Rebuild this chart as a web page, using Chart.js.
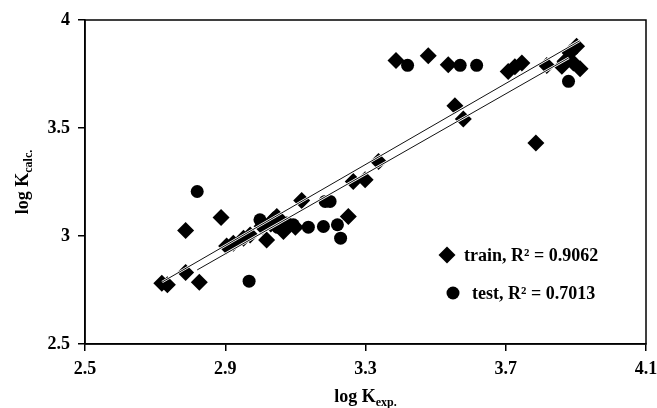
<!DOCTYPE html>
<html><head><meta charset="utf-8">
<script src="https://cdn.jsdelivr.net/npm/chart.js@4"></script>
<style>html,body{margin:0;padding:0;background:#fff}#wrap{width:657px;height:408px;position:relative}</style>
</head><body><div id="wrap"><canvas id="c" width="657" height="408"></canvas></div>
<script>
// ---- data ----
const trainX = [2.719,2.735,2.787,2.826,2.787,2.888,2.904,2.923,2.952,2.971,3.018,3.037,3.047,3.066,3.005,3.030,3.060,3.100,3.118,3.251,3.265,3.299,3.337,3.387,3.479,3.536,3.555,3.579,3.707,3.726,3.746,3.817,3.786,3.902,3.883,3.869,3.893,3.912,3.860];
const trainY = [2.781,2.774,2.831,2.786,3.025,3.086,2.954,2.967,2.990,3.005,2.982,3.075,3.090,3.021,3.045,3.055,3.060,3.040,3.164,3.090,3.252,3.260,3.345,3.813,3.835,3.793,3.603,3.542,3.762,3.783,3.801,3.789,3.430,3.878,3.848,3.809,3.801,3.774,3.786];
const testX = [2.820,2.968,2.999,3.050,3.075,3.094,3.137,3.180,3.220,3.229,3.185,3.199,3.420,3.570,3.617,3.879];
const testY = [3.206,2.791,3.075,3.040,3.060,3.052,3.041,3.044,3.052,2.990,3.160,3.160,3.790,3.790,3.790,3.716];
const trainFitX = [2.72,3.91];
const trainFitY = [2.787,3.903];
const testFitX = [2.82,3.88];
const testFitY = [2.843,3.825];
const xTicks = [2.5,2.9,3.3,3.7,4.1];
const yTicks = [2.5,3,3.5,4];
const legendLabels = ['train, R\u00b2 = 0.9062','test, R\u00b2 = 0.7013'];
const xTitle = ['log K','exp.'];
const yTitle = ['log K','calc.'];

const pts = (xs, ys) => xs.map((x,i)=>({x:x, y:ys[i]}));
const FONT = '"Liberation Serif", "Times New Roman", serif';

const overlay = {
  id:'overlay',
  afterDraw(chart){
    const ctx = chart.ctx, a = chart.chartArea;
    ctx.save();
    ctx.strokeStyle='#000'; ctx.lineWidth=1.5;
    ctx.strokeRect(a.left, a.top, a.right-a.left, a.bottom-a.top);
    ctx.fillStyle='#000';
    ctx.beginPath();
    const dx=447, dy=255, r=8.5;
    ctx.moveTo(dx,dy-r); ctx.lineTo(dx+r,dy); ctx.lineTo(dx,dy+r); ctx.lineTo(dx-r,dy); ctx.closePath(); ctx.fill();
    ctx.beginPath(); ctx.arc(453,293,6.5,0,Math.PI*2); ctx.fill();
    ctx.font='bold 18px '+FONT; ctx.textBaseline='middle'; ctx.textAlign='left';
    ctx.fillText(legendLabels[0], 464, 256);
    ctx.fillText(legendLabels[1], 472, 294);
    const big='bold 18px '+FONT, small='bold 12px '+FONT;
    ctx.textBaseline='alphabetic';
    ctx.font=big; const w1=ctx.measureText(xTitle[0]).width;
    ctx.font=small; const w2=ctx.measureText(xTitle[1]).width;
    let cx=(a.left+a.right)/2 - (w1+w2)/2;
    ctx.font=big; ctx.fillText(xTitle[0], cx, 402);
    ctx.font=small; ctx.fillText(xTitle[1], cx+w1, 406);
    ctx.translate(28, 182); ctx.rotate(-Math.PI/2);
    ctx.font=big; const v1=ctx.measureText(yTitle[0]).width;
    ctx.font=small; const v2=ctx.measureText(yTitle[1]).width;
    let sx=-(v1+v2)/2;
    ctx.font=big; ctx.fillText(yTitle[0], sx, 0);
    ctx.font=small; ctx.fillText(yTitle[1], sx+v1, 4);
    ctx.restore();
  }
};

const lineDs = (data, color, width, order) => ({
  type:'scatter', data, showLine:true, pointRadius:0, borderColor:color, borderWidth:width, fill:false, order
});

new Chart(document.getElementById('c'), {
  type:'scatter',
  data:{datasets:[
    lineDs(pts(trainFitX,trainFitY), '#111', 1, 0),
    lineDs(pts(testFitX,testFitY), '#111', 1, 0),
    lineDs(pts(trainFitX,trainFitY), '#fff', 2.5, 1),
    lineDs(pts(testFitX,testFitY), '#fff', 2.5, 1),
    {label:'train', data:pts(trainX,trainY), pointStyle:'rectRot', pointRadius:8.5, backgroundColor:'#000', borderWidth:0, order:2},
    {label:'test', data:pts(testX,testY), pointStyle:'circle', pointRadius:6.5, backgroundColor:'#000', borderWidth:0, order:2}
  ]},
  options:{
    responsive:false, animation:false, devicePixelRatio:1,
    layout:{padding:{top:20,right:11,left:0,bottom:0}},
    plugins:{legend:{display:false}, tooltip:{enabled:false}},
    elements:{point:{hoverRadius:8}},
    scales:{
      x:{type:'linear', min:2.5, max:4.1,
        afterBuildTicks: s => { s.ticks = xTicks.map(v=>({value:v})); },
        afterFit: s => { s.height = 64; s.paddingLeft = 0; s.paddingRight = 0; },
        ticks:{font:{family:FONT, size:18, weight:'bold'}, color:'#000', padding:8, maxRotation:0,
          callback: v => v.toFixed(1)},
        grid:{display:true, drawOnChartArea:false, drawTicks:true, tickLength:7, color:'#000', lineWidth:1.5},
        border:{display:true, color:'#000', width:1.5}
      },
      y:{type:'linear', min:2.5, max:4,
        afterBuildTicks: s => { s.ticks = yTicks.map(v=>({value:v})); },
        afterFit: s => { s.width = 85; s.paddingTop = 0; s.paddingBottom = 0; },
        ticks:{font:{family:FONT, size:18, weight:'bold'}, color:'#000', padding:8,
          callback: v => String(v)},
        grid:{display:true, drawOnChartArea:false, drawTicks:true, tickLength:7, color:'#000', lineWidth:1.5},
        border:{display:true, color:'#000', width:1.5}
      }
    }
  },
  plugins:[overlay]
});
</script></body></html>
